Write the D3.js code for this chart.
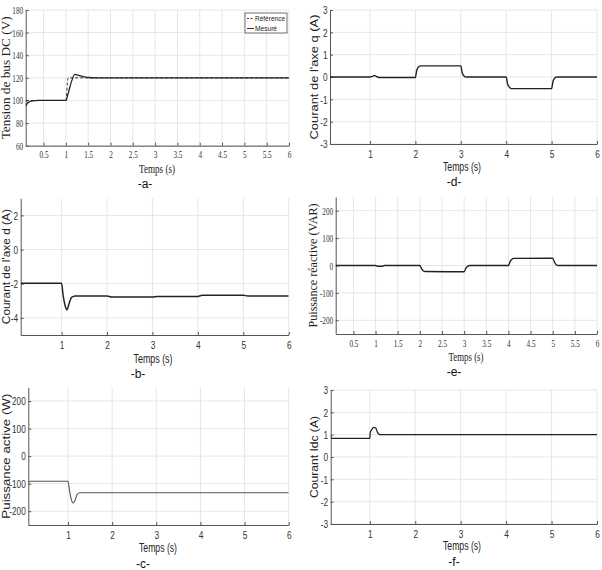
<!DOCTYPE html>
<html>
<head>
<meta charset="utf-8">
<script src="https://cdn.jsdelivr.net/npm/d3@7"></script>
<style>
  body { margin: 0; background: #fff; }
  svg { display: block; }
</style>
</head>
<body>
<svg id="chart" width="602" height="570"></svg>
<script>
// Values, as [temps (s), valeur]
var tensionRef = [[0.1, 100], [1.0, 100], [1.05, 120], [6, 120]];
var tensionMes = [[0.1, 95], [0.15, 98], [0.25, 99.7], [0.4, 100], [1.0, 100], [1.05, 106], [1.12, 116],
    [1.2, 123], [1.3, 122], [1.4, 121], [1.5, 120.3], [1.7, 120], [6, 120]];
var courantQ = [[0.12, 0], [1.0, 0], [1.1, 0.06], [1.2, -0.02], [2.0, -0.02], [2.03, 0.3], [2.07, 0.45],
    [2.12, 0.5], [3.0, 0.5], [3.03, 0.2], [3.07, 0.05], [3.12, 0], [4.0, 0], [4.03, -0.3], [4.07, -0.45],
    [4.12, -0.52], [5.0, -0.52], [5.03, -0.2], [5.07, -0.05], [5.12, 0], [6, 0]];
var courantD = [[0.1, -1.97], [1.0, -1.97], [1.03, -2.6], [1.08, -3.3], [1.12, -3.53], [1.16, -3.2],
    [1.22, -2.8], [1.3, -2.72], [2.0, -2.72], [2.1, -2.78], [3.0, -2.78], [3.1, -2.74], [4.0, -2.74],
    [4.1, -2.67], [5.0, -2.67], [5.1, -2.72], [6, -2.72]];
var puissanceQ = [[0.1, 0], [1.0, 0], [1.05, -3], [1.15, -3], [1.2, 0], [2.0, 0], [2.04, -12], [2.08, -20],
    [2.12, -22], [3.0, -23], [3.04, -10], [3.08, -3], [3.12, 0], [4.0, 0], [4.04, 15], [4.08, 23],
    [4.12, 26], [5.0, 27], [5.04, 12], [5.08, 3], [5.12, 0], [6, 0]];
var puissanceP = [[0.1, -95], [0.15, -91], [1.0, -91], [1.03, -120], [1.07, -155], [1.12, -170],
    [1.16, -160], [1.21, -138], [1.27, -133], [6, -133]];
var courantIdc = [[0.14, 0.92], [0.17, 0.83], [1.0, 0.83], [1.01, 1.1], [1.05, 1.25], [1.09, 1.33],
    [1.13, 1.3], [1.17, 1.1], [1.22, 1.0], [6, 1.0]];

var ticksHalf = [0.5, 1, 1.5, 2, 2.5, 3, 3.5, 4, 4.5, 5, 5.5, 6];
var ticksUnit = [1, 2, 3, 4, 5, 6];
var ticksTension = [60, 80, 100, 120, 140, 160, 180];
var ticksTrois = [-3, -2, -1, 0, 1, 2, 3];
var ticksD = [-4, -2, 0, 2];
var ticksPuissance = [-200, -100, 0, 100, 200];

var serif = "'Liberation Serif', 'DejaVu Serif', serif",
    sans = "'Liberation Sans', Arial, sans-serif";

var svg = d3.select("#chart");

// one entry per sub-figure: box in pixels, domains, labels
// ylw / tw : width of the y label and of "Temps (s)" as read on the picture (text is narrow there)
var panels = [
    { box: [25.7, 10, 289, 145.7], xd: [0.1, 6], yd: [60, 180], xt: ticksHalf, yt: ticksTension, font: serif,
      ylab: "Tension de bus DC (V)", ylx: 6, ylw: 123, tx: 157, ty: 173, tw: 36, cap: "-a-", cx: 145, cy: 188,
      series: [{ d: tensionRef, dash: "3,2", w: 0.9 }, { d: tensionMes, w: 1.3 }], legend: true },
    { box: [330, 10, 597, 144], xd: [0.12, 6], yd: [-3, 3], xt: ticksUnit, yt: ticksTrois, font: sans,
      ylab: "Courant de l'axe q (A)", ylx: 314, ylw: 125, tx: 462, ty: 171, tw: 38, cap: "-d-", cx: 454, cy: 186,
      series: [{ d: courantQ, w: 1.4 }] },
    { box: [20.7, 198.3, 288.7, 335], xd: [0.1, 6], yd: [-5, 3], xt: ticksUnit, yt: ticksD, font: sans,
      ylab: "Courant de l'axe d (A)", ylx: 5.5, ylw: 115, tx: 153, ty: 363, tw: 39, cap: "-b-", cx: 138, cy: 378,
      series: [{ d: courantD, w: 1.5 }] },
    { box: [335.7, 197, 597, 334], xd: [0.1, 6], yd: [-250, 250], xt: ticksHalf, yt: ticksPuissance, font: serif,
      ylab: "Puissance réactive (VAR)", ylx: 313, ylw: 124, tx: 466, ty: 361, tw: 35, cap: "-e-", cx: 454, cy: 376,
      series: [{ d: puissanceQ, w: 1.4 }] },
    { box: [28.3, 387.3, 288.7, 525], xd: [0.1, 6], yd: [-250, 250], xt: ticksUnit, yt: ticksPuissance, font: sans,
      ylab: "Puissance active (W)", ylx: 6, ylw: 125, tx: 158, ty: 552, tw: 38, cap: "-c-", cx: 143, cy: 567.5,
      series: [{ d: puissanceP, w: 1.1, color: "#555" }] },
    { box: [330.7, 390, 597, 524], xd: [0.14, 6], yd: [-3, 3], xt: ticksUnit, yt: ticksTrois, font: sans,
      ylab: "Courant Idc (A)", ylx: 314, ylw: 82, tx: 462, ty: 550, tw: 38, cap: "-f-", cx: 454, cy: 566,
      series: [{ d: courantIdc, w: 1.3 }] }
];

panels.forEach(function (p, i) {
    var x = d3.scaleLinear().domain(p.xd).range([p.box[0], p.box[2]]),
        y = d3.scaleLinear().domain(p.yd).range([p.box[3], p.box[1]]),
        g = svg.append("g"),
        isSerif = p.font === serif,
        squeeze = isSerif ? 0.66 : 0.72;

    // grid
    g.append("g").selectAll("line").data(p.xt).join("line")
        .attr("x1", x).attr("x2", x).attr("y1", p.box[1]).attr("y2", p.box[3])
        .attr("stroke", "#e6e6e6").attr("stroke-width", 1);
    g.append("g").selectAll("line").data(p.yt).join("line")
        .attr("x1", p.box[0]).attr("x2", p.box[2]).attr("y1", y).attr("y2", y)
        .attr("stroke", "#e6e6e6").attr("stroke-width", 1);

    // axes with inward ticks, narrow tick labels
    var xAxis = d3.axisBottom(x).tickValues(p.xt).tickSizeInner(-3).tickSizeOuter(0).tickPadding(isSerif ? 5 : 6)
        .tickFormat(function (v) { return String(v); });
    var yAxis = d3.axisLeft(y).tickValues(p.yt).tickSizeInner(-3).tickSizeOuter(0).tickPadding(2.5 / squeeze)
        .tickFormat(function (v) { return String(v); });
    var ax = g.append("g").attr("transform", "translate(0," + p.box[3] + ")").call(xAxis);
    var ay = g.append("g").attr("transform", "translate(" + p.box[0] + ",0)").call(yAxis);
    [ax, ay].forEach(function (a) {
        a.select(".domain").attr("stroke", "#555");
        a.selectAll(".tick line").attr("stroke", "#555");
        a.selectAll("text").attr("fill", "#333")
            .attr("transform", "scale(" + squeeze + ",1)")
            .style("font-family", p.font).style("font-size", isSerif ? "11px" : "11.5px");
    });

    var clipId = "clip" + i;
    g.append("clipPath").attr("id", clipId).append("rect")
        .attr("x", p.box[0]).attr("y", p.box[1])
        .attr("width", p.box[2] - p.box[0]).attr("height", p.box[3] - p.box[1]);

    var line = d3.line().x(function (d) { return x(d[0]); }).y(function (d) { return y(d[1]); })
        .curve(d3.curveMonotoneX);
    p.series.forEach(function (s) {
        g.append("path").datum(s.d)
            .attr("clip-path", "url(#" + clipId + ")")
            .attr("d", line)
            .attr("fill", "none")
            .attr("stroke", s.color || "#222")
            .attr("stroke-width", s.w)
            .attr("stroke-dasharray", s.dash || null);
    });

    // labels
    var midY = (p.box[1] + p.box[3]) / 2;
    g.append("text")
        .attr("transform", "translate(" + p.ylx + "," + midY + ") rotate(-90)")
        .attr("text-anchor", "middle").attr("dominant-baseline", "central")
        .attr("textLength", p.ylw).attr("lengthAdjust", "spacingAndGlyphs")
        .style("font-family", p.font).style("font-size", "11.5px").attr("fill", "#222")
        .text(p.ylab);
    g.append("text").attr("x", p.tx).attr("y", p.ty).attr("text-anchor", "middle")
        .attr("textLength", p.tw).attr("lengthAdjust", "spacingAndGlyphs")
        .style("font-family", p.font).style("font-size", "12.5px").attr("fill", "#222")
        .text("Temps (s)");
    g.append("text").attr("x", p.cx).attr("y", p.cy).attr("text-anchor", "middle")
        .style("font-family", sans).style("font-size", "12px").attr("fill", "#111")
        .text(p.cap);

    if (p.legend) {
        var lg = g.append("g");
        lg.append("rect").attr("x", 245).attr("y", 13).attr("width", 42).attr("height", 20)
            .attr("fill", "#fff").attr("stroke", "#333").attr("stroke-width", 0.7);
        var names = ["Référence", "Mesuré"];
        names.forEach(function (n, k) {
            var yy = 18.5 + k * 10;
            lg.append("line").attr("x1", 247).attr("x2", 254).attr("y1", yy).attr("y2", yy)
                .attr("stroke", "#222").attr("stroke-width", 0.9)
                .attr("stroke-dasharray", k === 0 ? "2,1.5" : null);
            lg.append("text").attr("x", 255).attr("y", yy).attr("dominant-baseline", "central")
                .attr("textLength", k === 0 ? 30 : 22).attr("lengthAdjust", "spacingAndGlyphs")
                .style("font-family", sans).style("font-size", "8px").attr("fill", "#222")
                .text(n);
        });
    }
});
</script>
</body>
</html>
